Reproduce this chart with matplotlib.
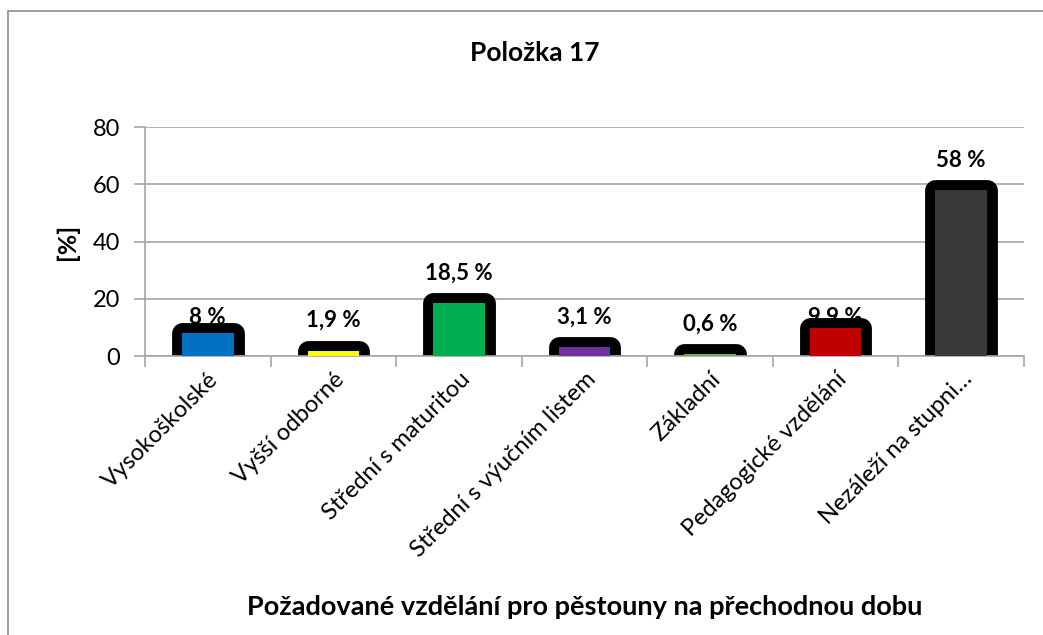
import matplotlib.pyplot as plt
from matplotlib.patches import Rectangle

categories = [
    "Vysokoškolské",
    "Vyšší odborné",
    "Střední s maturitou",
    "Střední s výučním listem",
    "Základní",
    "Pedagogické vzdělání",
    "Nezáleží na stupni…",
]
values = [8, 1.9, 18.5, 3.1, 0.6, 9.9, 58]
value_labels = ["8 %", "1,9 %", "18,5 %", "3,1 %", "0,6 %", "9,9 %", "58 %"]
colors = ["#0070C0", "#FFFF00", "#00B050", "#7030A0", "#70AD47", "#C00000", "#3B3938"]
label_offsets = [4, 14, 14, 14, 14, 0, 14]

plt.rcParams["font.family"] = ["Lato", "DejaVu Sans"]
GRAY = "#A6A6A6"

fig = plt.figure(figsize=(10.43, 6.35), dpi=100)
ax = fig.add_axes([145 / 1043, 1 - 356 / 635, (1024 - 145) / 1043, (356 - 127) / 635])

x = list(range(len(categories)))

# black rounded outline bars, then the coloured fill on top
ax.bar(x, values, width=0.41, color="black", edgecolor="black",
       linewidth=15, joinstyle="round", zorder=2)
ax.bar(x, values, width=0.41, color=colors, linewidth=0, zorder=3)

for xi, v, lab, off in zip(x, values, value_labels, label_offsets):
    ax.annotate(lab, (xi, v), xytext=(0, off), textcoords="offset points",
                ha="center", va="bottom", fontsize=16, fontweight="bold", zorder=4)

ax.set_xlim(-0.5, len(categories) - 0.5)
ax.set_ylim(0, 80)
ax.set_yticks([0, 20, 40, 60, 80])
ax.yaxis.grid(True, color=GRAY, linewidth=1.2, zorder=0)
ax.set_axisbelow(True)

ax.set_xticks(x)
ax.set_xticklabels(categories, rotation=45, ha="right", rotation_mode="anchor", fontsize=17)
ax.tick_params(axis="x", length=0, pad=9)
ax.set_xticks([i - 0.5 for i in range(len(categories) + 1)], minor=True)
ax.tick_params(axis="x", which="minor", length=8, color=GRAY, width=1.2)
ax.tick_params(axis="y", length=8, color=GRAY, width=1.2, labelsize=17, pad=10)

for side in ["top", "right"]:
    ax.spines[side].set_visible(False)
for side in ["left", "bottom"]:
    ax.spines[side].set_color(GRAY)
    ax.spines[side].set_linewidth(1.2)

ax.set_ylabel("[%]", fontsize=18, fontweight="bold", labelpad=10)
fig.text(585 / 1043, 1 - 607 / 635, "Požadované vzdělání pro pěstouny na přechodnou dobu",
         ha="center", va="center", fontsize=19.5, fontweight="bold")
fig.text(535 / 1043, 1 - 53 / 635, "Položka 17", ha="center", va="center",
         fontsize=19, fontweight="bold")

fig.patches.append(Rectangle((8 / 1043, -0.1), 1.2, 1 - 11 / 635 + 0.1,
                             transform=fig.transFigure, fill=False,
                             edgecolor="#8C8C8C", linewidth=1.2))

fig.savefig("out.png", dpi=100)
